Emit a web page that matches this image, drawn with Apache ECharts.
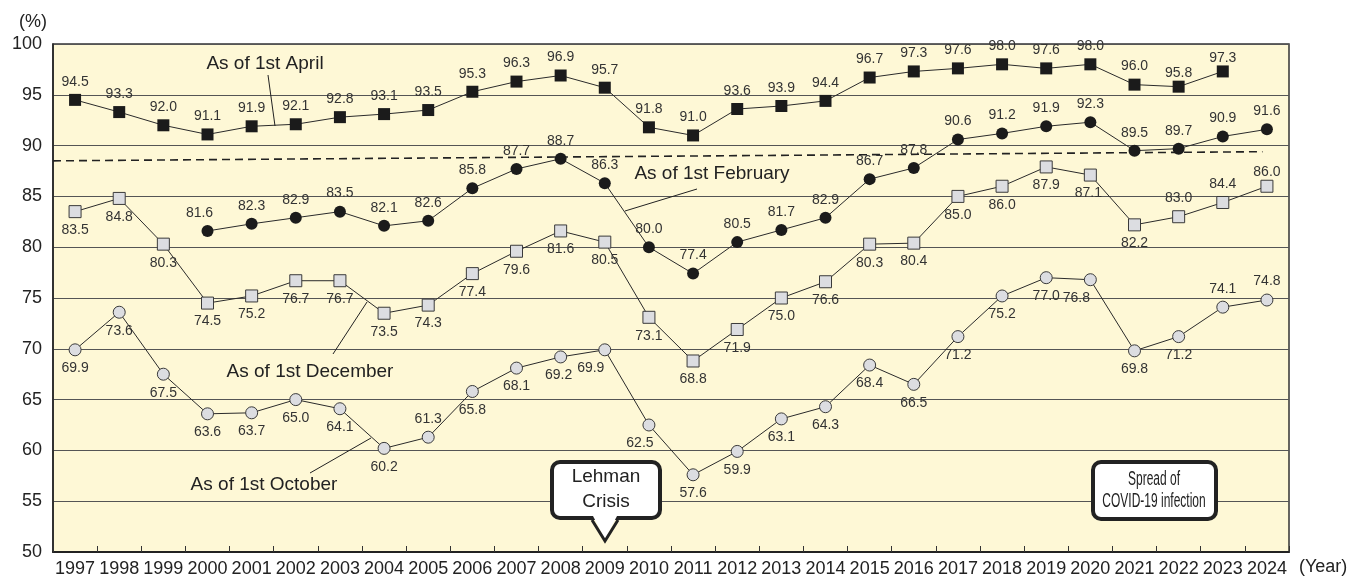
<!DOCTYPE html>
<html><head><meta charset="utf-8">
<script src="https://cdn.jsdelivr.net/npm/echarts@6/dist/echarts.min.js"></script>
<style>html,body{margin:0;padding:0;background:#fff}#c{width:1368px;height:578px}</style>
</head><body><div id="c"></div>
<script>
const years = ['1997','1998','1999','2000','2001','2002','2003','2004','2005','2006','2007','2008','2009','2010','2011','2012','2013','2014','2015','2016','2017','2018','2019','2020','2021','2022','2023','2024'];
const april = [94.5,93.3,92.0,91.1,91.9,92.1,92.8,93.1,93.5,95.3,96.3,96.9,95.7,91.8,91.0,93.6,93.9,94.4,96.7,97.3,97.6,98.0,97.6,98.0,96.0,95.8,97.3,null];
const february = [null,null,null,81.6,82.3,82.9,83.5,82.1,82.6,85.8,87.7,88.7,86.3,80.0,77.4,80.5,81.7,82.9,86.7,87.8,90.6,91.2,91.9,92.3,89.5,89.7,90.9,91.6];
const december = [83.5,84.8,80.3,74.5,75.2,76.7,76.7,73.5,74.3,77.4,79.6,81.6,80.5,73.1,68.8,71.9,75.0,76.6,80.3,80.4,85.0,86.0,87.9,87.1,82.2,83.0,84.4,86.0];
const october = [69.9,73.6,67.5,63.6,63.7,65.0,64.1,60.2,61.3,65.8,68.1,69.2,69.9,62.5,57.6,59.9,63.1,64.3,68.4,66.5,71.2,75.2,77.0,76.8,69.8,71.2,74.1,74.8];
// dashed trend line (x in category-slot units from the left edge)
const trendX = [0, 27.4];
const trendY = [88.5, 89.4];

// label placement tweaks (styles, kept apart from values)
const aprilLabelTweaks = {'2022': {offset:[0,4]}, '2023': {offset:[0,5]}};
const februaryLabelTweaks = {'2000': {offset:[-8,0]}};
const decemberLabelTweaks = {'2020': {offset:[-2,0]}, '2022': {position:'top'}, '2023': {position:'top'}, '2024': {position:'top', offset:[0,4]}};
const octoberLabelTweaks = {'2005': {position:'top'}, '2008': {offset:[-2,0]}, '2009': {offset:[-14,0]}, '2010': {offset:[-9,0]}, '2020': {offset:[-14,0]}, '2023': {position:'top'}, '2024': {position:'top'}};

function buildData(values, pos, tweaks) {
  return values.map((v, i) => {
    if (v == null) return '-';
    const t = tweaks[years[i]];
    return t ? {value: v, label: Object.assign({position: pos}, t)} : v;
  });
}
function lineSeries(name, values, symbol, fill, border, pos, tweaks) {
  return {
    name, type: 'line', data: buildData(values, pos, tweaks),
    symbol, symbolSize: 12, showSymbol: true, showAllSymbol: true,
    lineStyle: {color: '#2a2a2a', width: 1},
    itemStyle: {color: fill, borderColor: '#3a3a3a', borderWidth: border},
    label: {show: true, position: pos, distance: 5, fontSize: 14, fontFamily: 'Arial', color: '#333',
            formatter: p => Number(p.value).toFixed(1)},
    emphasis: {disabled: true}, z: 3, animation: false
  };
}

const chart = echarts.init(document.getElementById('c'), null, {renderer: 'canvas'});
chart.setOption({
  animation: false,
  grid: {left: 53, right: 79, top: 44, bottom: 26, show: true, backgroundColor: '#FEF8D6', borderColor: '#333', borderWidth: 1.5},
  xAxis: [{
    type: 'category', data: years, boundaryGap: true,
    name: '(Year)', nameLocation: 'end', nameGap: 10,
    nameTextStyle: {fontSize: 18, fontFamily: 'Arial', color: '#222', verticalAlign: 'top', padding: [6,0,0,0]},
    axisLine: {lineStyle: {color: '#222', width: 2}},
    axisTick: {show: true, inside: true, length: 6, lineStyle: {color: '#333'}},
    axisLabel: {fontSize: 18, fontFamily: '"Liberation Sans Narrow", "Arial Narrow", Arial', color: '#222', margin: 8, interval: 0},
    splitLine: {show: false}
  }, {
    type: 'value', min: 0, max: 28, show: false
  }],
  yAxis: {
    type: 'value', min: 50, max: 100, interval: 5,
    name: '(%)', nameLocation: 'end', nameGap: 13,
    nameTextStyle: {fontSize: 18, fontFamily: 'Arial', color: '#222', align: 'right', padding: [0,6,0,0]},
    axisLine: {show: true, lineStyle: {color: '#222', width: 1.5}},
    axisTick: {show: false},
    axisLabel: {fontSize: 18, fontFamily: 'Arial', color: '#222', margin: 11},
    splitLine: {lineStyle: {color: '#555', width: 1}}
  },
  series: [
    {type: 'line', xAxisIndex: 1, data: trendX.map((x, i) => [x, trendY[i]]), symbol: 'none',
     lineStyle: {color: '#222', width: 1.6, type: [8,5]}, z: 2, silent: true},
    lineSeries('As of 1st April', april, 'rect', '#1b1b1b', 0, 'top', aprilLabelTweaks),
    lineSeries('As of 1st February', february, 'circle', '#1b1b1b', 0, 'top', februaryLabelTweaks),
    lineSeries('As of 1st December', december, 'rect', '#dcdde1', 1, 'bottom', decemberLabelTweaks),
    lineSeries('As of 1st October', october, 'circle', '#dcdde1', 1, 'bottom', octoberLabelTweaks)
  ],
  graphic: [
    {type:'text', x:265, y:64, z:10, style:{text:'As of 1st April', font:'19px Arial', fill:'#222', align:'center', verticalAlign:'middle', textAlign:'center', textVerticalAlign:'middle'}},
    {type:'line', z:10, shape:{x1:268,y1:75,x2:275,y2:126}, style:{stroke:'#222', lineWidth:1}},
    {type:'text', x:712, y:174, z:10, style:{text:'As of 1st February', font:'19px Arial', fill:'#222', align:'center', verticalAlign:'middle', textAlign:'center', textVerticalAlign:'middle'}},
    {type:'line', z:10, shape:{x1:697,y1:189,x2:625,y2:211}, style:{stroke:'#222', lineWidth:1}},
    {type:'text', x:310, y:372, z:10, style:{text:'As of 1st December', font:'19px Arial', fill:'#222', align:'center', verticalAlign:'middle', textAlign:'center', textVerticalAlign:'middle'}},
    {type:'line', z:10, shape:{x1:333,y1:354,x2:367,y2:302}, style:{stroke:'#222', lineWidth:1}},
    {type:'text', x:264, y:485, z:10, style:{text:'As of 1st October', font:'19px Arial', fill:'#222', align:'center', verticalAlign:'middle', textAlign:'center', textVerticalAlign:'middle'}},
    {type:'line', z:10, shape:{x1:310,y1:473,x2:371,y2:438}, style:{stroke:'#222', lineWidth:1}},
    // Lehman callout
    {type:'rect', z:10, shape:{x:552,y:462,width:108,height:56,r:8}, style:{fill:'#fff', stroke:'#222', lineWidth:4}},
    {type:'polygon', z:11, shape:{points:[[593,516],[605,539],[617,516]]}, style:{fill:'#fff'}},
    {type:'polyline', z:11, shape:{points:[[592,520],[605,541],[618,520]]}, style:{stroke:'#222', lineWidth:3, fill:null}},
    {type:'text', x:606, y:477, z:12, style:{text:'Lehman', font:'19px Arial', fill:'#222', align:'center', verticalAlign:'middle', textAlign:'center', textVerticalAlign:'middle'}},
    {type:'text', x:606, y:502, z:12, style:{text:'Crisis', font:'19px Arial', fill:'#222', align:'center', verticalAlign:'middle', textAlign:'center', textVerticalAlign:'middle'}},
    // COVID callout
    {type:'rect', z:10, shape:{x:1093,y:462,width:123,height:57,r:8}, style:{fill:'#fff', stroke:'#222', lineWidth:4}},
    {type:'text', x:1154, y:479, z:12, scaleX:0.6, style:{text:'Spread of', font:'20px Arial', fill:'#222', align:'center', verticalAlign:'middle', textAlign:'center', textVerticalAlign:'middle'}},
    {type:'text', x:1154, y:501, z:12, scaleX:0.6, style:{text:'COVID-19 infection', font:'20px Arial', fill:'#222', align:'center', verticalAlign:'middle', textAlign:'center', textVerticalAlign:'middle'}}
  ]
});
</script></body></html>
